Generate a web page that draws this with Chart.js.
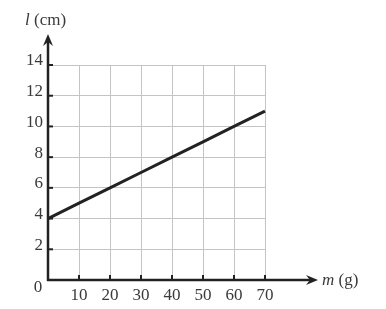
<!DOCTYPE html>
<html>
<head>
<meta charset="utf-8">
<script src="https://cdn.jsdelivr.net/npm/chart.js@4.4.1/dist/chart.umd.min.js"></script>
<style>
  html, body { margin: 0; padding: 0; background: #fff; }
  #wrap { width: 386px; height: 309px; }
</style>
</head>
<body>
<div id="wrap"><canvas id="chart" width="386" height="309"></canvas></div>
<script>
// --- data ---
const massG = [0, 10, 20, 30, 40, 50, 60, 70];
const lengthCm = [4, 5, 6, 7, 8, 9, 10, 11];
const xTicks = [10, 20, 30, 40, 50, 60, 70];
const yTicks = [2, 4, 6, 8, 10, 12, 14];

const ink = "#222";
const labelColor = "#3a3a3a";
const serif = "'Liberation Serif', 'DejaVu Serif', serif";

// axes with arrows, inner tick marks, origin label and axis titles
const axesPlugin = {
  id: "axesArrows",
  afterDatasetsDraw(chart) {
    const ctx = chart.ctx;
    const xs = chart.scales.x;
    const ys = chart.scales.y;
    const x0 = xs.getPixelForValue(0);
    const y0 = ys.getPixelForValue(0);
    const yTip = 34;
    const xTip = 318;

    ctx.save();
    ctx.strokeStyle = ink;
    ctx.fillStyle = ink;
    ctx.lineWidth = 2.5;
    ctx.lineCap = "butt";

    // y axis
    ctx.beginPath();
    ctx.moveTo(x0, y0 + 1);
    ctx.lineTo(x0, yTip + 6);
    ctx.stroke();
    // x axis
    ctx.beginPath();
    ctx.moveTo(x0 - 1, y0);
    ctx.lineTo(xTip - 6, y0);
    ctx.stroke();

    // arrow heads
    ctx.beginPath();
    ctx.moveTo(x0, yTip);
    ctx.lineTo(x0 + 5, yTip + 12);
    ctx.lineTo(x0, yTip + 8);
    ctx.lineTo(x0 - 5, yTip + 12);
    ctx.closePath();
    ctx.fill();

    ctx.beginPath();
    ctx.moveTo(xTip, y0);
    ctx.lineTo(xTip - 12, y0 - 5);
    ctx.lineTo(xTip - 8, y0);
    ctx.lineTo(xTip - 12, y0 + 5);
    ctx.closePath();
    ctx.fill();

    // small tick marks inside the plot
    ctx.lineWidth = 2;
    for (const v of yTicks) {
      const py = ys.getPixelForValue(v);
      ctx.beginPath();
      ctx.moveTo(x0, py);
      ctx.lineTo(x0 + 5, py);
      ctx.stroke();
    }
    for (const v of xTicks) {
      const px = xs.getPixelForValue(v);
      ctx.beginPath();
      ctx.moveTo(px, y0);
      ctx.lineTo(px, y0 - 5);
      ctx.stroke();
    }

    // origin label
    ctx.fillStyle = labelColor;
    ctx.font = "17px " + serif;
    ctx.textAlign = "center";
    ctx.textBaseline = "middle";
    ctx.fillText("0", x0 - 10, y0 + 8);

    // axis titles
    ctx.textAlign = "left";
    ctx.textBaseline = "alphabetic";
    ctx.font = "italic 17px " + serif;
    ctx.fillText("l", 25, 25);
    let w = ctx.measureText("l").width;
    ctx.font = "17px " + serif;
    ctx.fillText(" (cm)", 25 + w, 25);

    ctx.textBaseline = "middle";
    ctx.font = "italic 17px " + serif;
    ctx.fillText("m", 322, y0 + 1);
    w = ctx.measureText("m").width;
    ctx.font = "17px " + serif;
    ctx.fillText(" (g)", 322 + w, y0 + 1);
    ctx.restore();
  }
};

const canvas = document.getElementById("chart");

new Chart(canvas, {
  type: "scatter",
  data: {
    datasets: [{
      label: "l",
      data: massG.map((m, i) => ({ x: m, y: lengthCm[i] })),
      showLine: true,
      borderColor: ink,
      borderWidth: 3,
      pointRadius: 0,
      clip: false
    }]
  },
  options: {
    responsive: false,
    animation: false,
    layout: { padding: { left: 0, top: 65, right: 121, bottom: 4 } },
    plugins: {
      legend: { display: false },
      tooltip: { enabled: false }
    },
    scales: {
      x: {
        type: "linear",
        min: 0,
        max: 70,
        afterBuildTicks(s) { s.ticks = [0].concat(xTicks).map(v => ({ value: v })); },
        afterFit(s) { s.height = 25; },
        border: { display: false },
        grid: { color: "#c4c4c4", lineWidth: 1, drawTicks: false },
        ticks: {
          padding: 5,
          color: labelColor,
          font: { family: serif, size: 17 },
          callback: v => (v === 0 ? "" : String(v))
        }
      },
      y: {
        type: "linear",
        min: 0,
        max: 14,
        afterBuildTicks(s) { s.ticks = [0].concat(yTicks).map(v => ({ value: v })); },
        afterFit(s) { s.width = 48; },
        border: { display: false },
        grid: { color: "#c4c4c4", lineWidth: 1, drawTicks: false },
        ticks: {
          padding: 5,
          labelOffset: -4,
          color: labelColor,
          font: { family: serif, size: 17 },
          callback: v => (v === 0 ? "" : String(v))
        }
      }
    }
  },
  plugins: [axesPlugin]
});
</script>
</body>
</html>
